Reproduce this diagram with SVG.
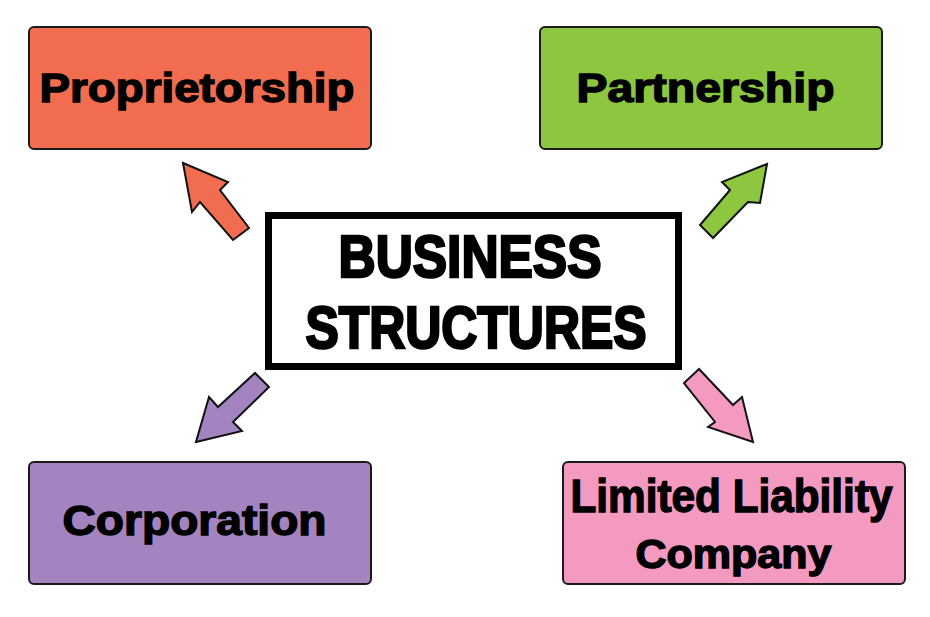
<svg xmlns="http://www.w3.org/2000/svg" width="930" height="617" viewBox="0 0 930 617">
<style>
.box{stroke:#1a1a1a;stroke-width:2}
.lbl{font-family:"Liberation Sans","DejaVu Sans",Arial,sans-serif;font-weight:bold;fill:#000;stroke:#000;stroke-width:1.4;text-anchor:middle}
.big{stroke-width:2.6}
.arr{stroke:#111;stroke-width:2;stroke-linejoin:miter}
</style>
<rect width="930" height="617" fill="#fff"/>
<g id="connectors">
<polygon class="arr" fill="#F26D50" points="183,163 192,212 200,202 233,240 249,228 220,190 228,182"/>
<polygon class="arr" fill="#8DC63F" points="767,164 722,182 730,190 700,225 713,238 748,202 760,203"/>
<polygon class="arr" fill="#A384C0" points="196,442 242,431 233,422 269,387 255,373 218,407 209,397"/>
<polygon class="arr" fill="#F49AC1" points="753,442 742,397 733,405 699,369 684,383 715,422 708,427"/>
</g>
<g id="center">
<rect x="268.5" y="215.5" width="410" height="151" fill="#fff" stroke="#000" stroke-width="7"/>
<text class="lbl big" x="470" y="277" font-size="60" textLength="263" lengthAdjust="spacingAndGlyphs">BUSINESS</text>
<text class="lbl big" x="476" y="348" font-size="60" textLength="341" lengthAdjust="spacingAndGlyphs">STRUCTURES</text>
</g>
<g id="proprietorship">
<rect class="box" x="29" y="27" width="342" height="122" rx="5" fill="#F26D50"/>
<text class="lbl" x="197" y="102" font-size="40" textLength="315" lengthAdjust="spacingAndGlyphs">Proprietorship</text>
</g>
<g id="partnership">
<rect class="box" x="540" y="27" width="342" height="122" rx="5" fill="#8DC63F"/>
<text class="lbl" x="705.5" y="102" font-size="40" textLength="258" lengthAdjust="spacingAndGlyphs">Partnership</text>
</g>
<g id="corporation">
<rect class="box" x="29" y="462" width="342" height="122" rx="5" fill="#A384C0"/>
<text class="lbl" x="194.5" y="535" font-size="42" textLength="264" lengthAdjust="spacingAndGlyphs">Corporation</text>
</g>
<g id="llc">
<rect class="box" x="563" y="462" width="342" height="122" rx="5" fill="#F49AC1"/>
<text class="lbl" x="731.5" y="512" font-size="46" textLength="322" lengthAdjust="spacingAndGlyphs">Limited Liability</text>
<text class="lbl" x="733.5" y="568" font-size="40" textLength="196" lengthAdjust="spacingAndGlyphs">Company</text>
</g>
</svg>
